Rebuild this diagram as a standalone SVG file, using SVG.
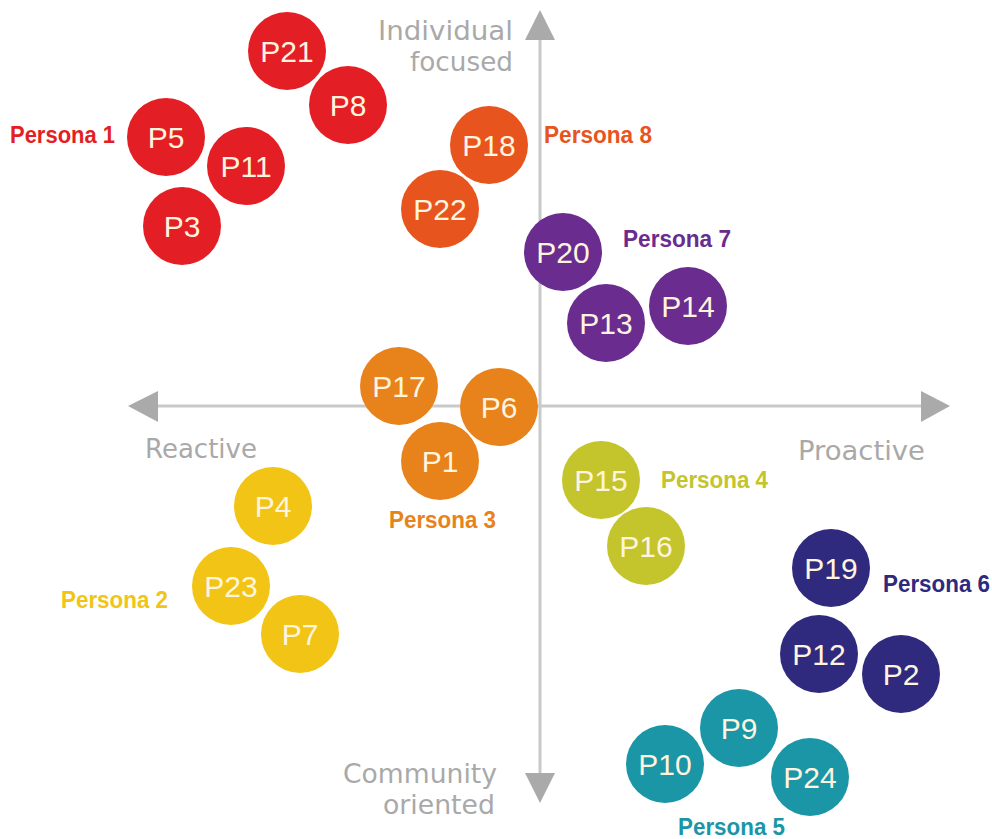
<svg xmlns="http://www.w3.org/2000/svg" width="992" height="839" viewBox="0 0 992 839">
<style>
.ax{stroke:#c9c9c9;stroke-width:3;fill:none}
.ah{fill:#aaaaaa}
.axl{font-family:"DejaVu Sans","Liberation Sans",sans-serif;font-size:27px;fill:#a9a9a9}
.c{stroke:none}
.pt{font-family:"Liberation Sans",Arial,sans-serif;font-size:30px;fill:#fff4df;text-anchor:middle}
.pl{font-family:"Liberation Sans",Arial,sans-serif;font-size:23px;font-weight:bold}
.red{fill:#e31e24}.or8{fill:#e8541e}.pur{fill:#6a2c8e}.org{fill:#e8821a}
.lim{fill:#c4c42c}.yel{fill:#f1c415}.nav{fill:#2f2a7e}.teal{fill:#1a96a6}
</style>
<g id="axes">
<line class="ax" x1="540" y1="36" x2="540" y2="778"/>
<line class="ax" x1="154" y1="406" x2="926" y2="406"/>
<polygon class="ah" points="540,10 555,40 525,40"/>
<polygon class="ah" points="540,803 555,773 525,773"/>
<polygon class="ah" points="128,406 158,391 158,422"/>
<polygon class="ah" points="950,406 921,391 921,422"/>
<text class="axl" x="513" y="40" text-anchor="end" textLength="135" lengthAdjust="spacingAndGlyphs">Individual</text>
<text class="axl" x="513" y="71" text-anchor="end" textLength="103" lengthAdjust="spacingAndGlyphs">focused</text>
<text class="axl" x="145" y="458" textLength="112" lengthAdjust="spacingAndGlyphs">Reactive</text>
<text class="axl" x="798" y="460" textLength="127" lengthAdjust="spacingAndGlyphs">Proactive</text>
<text class="axl" x="497" y="783" text-anchor="end" textLength="154" lengthAdjust="spacingAndGlyphs">Community</text>
<text class="axl" x="495" y="814" text-anchor="end" textLength="112" lengthAdjust="spacingAndGlyphs">oriented</text>
</g>
<g id="persona1">
<circle class="c red" cx="287" cy="51" r="39"/><text class="pt" x="287" y="62">P21</text>
<circle class="c red" cx="348" cy="105" r="39"/><text class="pt" x="348" y="116">P8</text>
<circle class="c red" cx="166" cy="137" r="39"/><text class="pt" x="166" y="148">P5</text>
<circle class="c red" cx="246" cy="166" r="39"/><text class="pt" x="246" y="177">P11</text>
<circle class="c red" cx="182" cy="226" r="39"/><text class="pt" x="182" y="237">P3</text>
<text class="pl red" x="10" y="143" textLength="105" lengthAdjust="spacingAndGlyphs">Persona 1</text>
</g>
<g id="persona8">
<circle class="c or8" cx="489" cy="145" r="39"/><text class="pt" x="489" y="156">P18</text>
<circle class="c or8" cx="440" cy="209" r="39"/><text class="pt" x="440" y="220">P22</text>
<text class="pl or8" x="544" y="143" textLength="108" lengthAdjust="spacingAndGlyphs">Persona 8</text>
</g>
<g id="persona7">
<circle class="c pur" cx="563" cy="252" r="39"/><text class="pt" x="563" y="263">P20</text>
<circle class="c pur" cx="606" cy="323" r="39"/><text class="pt" x="606" y="334">P13</text>
<circle class="c pur" cx="688" cy="306" r="39"/><text class="pt" x="688" y="317">P14</text>
<text class="pl pur" x="623" y="247" textLength="108" lengthAdjust="spacingAndGlyphs">Persona 7</text>
</g>
<g id="persona3">
<circle class="c org" cx="399" cy="386" r="39"/><text class="pt" x="399" y="397">P17</text>
<circle class="c org" cx="499" cy="407" r="39"/><text class="pt" x="499" y="418">P6</text>
<circle class="c org" cx="440" cy="461" r="39"/><text class="pt" x="440" y="472">P1</text>
<text class="pl org" x="389" y="528" textLength="107" lengthAdjust="spacingAndGlyphs">Persona 3</text>
</g>
<g id="persona4">
<circle class="c lim" cx="601" cy="480" r="39"/><text class="pt" x="601" y="491">P15</text>
<circle class="c lim" cx="646" cy="546" r="39"/><text class="pt" x="646" y="557">P16</text>
<text class="pl lim" x="661" y="488" textLength="107" lengthAdjust="spacingAndGlyphs">Persona 4</text>
</g>
<g id="persona2">
<circle class="c yel" cx="273" cy="506" r="39"/><text class="pt" x="273" y="517">P4</text>
<circle class="c yel" cx="231" cy="586" r="39"/><text class="pt" x="231" y="597">P23</text>
<circle class="c yel" cx="300" cy="634" r="39"/><text class="pt" x="300" y="645">P7</text>
<text class="pl yel" x="61" y="608" textLength="107" lengthAdjust="spacingAndGlyphs">Persona 2</text>
</g>
<g id="persona6">
<circle class="c nav" cx="831" cy="568" r="39"/><text class="pt" x="831" y="579">P19</text>
<circle class="c nav" cx="819" cy="654" r="39"/><text class="pt" x="819" y="665">P12</text>
<circle class="c nav" cx="901" cy="674" r="39"/><text class="pt" x="901" y="685">P2</text>
<text class="pl nav" x="883" y="592" textLength="107" lengthAdjust="spacingAndGlyphs">Persona 6</text>
</g>
<g id="persona5">
<circle class="c teal" cx="739" cy="728" r="39"/><text class="pt" x="739" y="739">P9</text>
<circle class="c teal" cx="665" cy="764" r="39"/><text class="pt" x="665" y="775">P10</text>
<circle class="c teal" cx="810" cy="777" r="39"/><text class="pt" x="810" y="788">P24</text>
<text class="pl teal" x="678" y="835" textLength="107" lengthAdjust="spacingAndGlyphs">Persona 5</text>
</g>
</svg>
